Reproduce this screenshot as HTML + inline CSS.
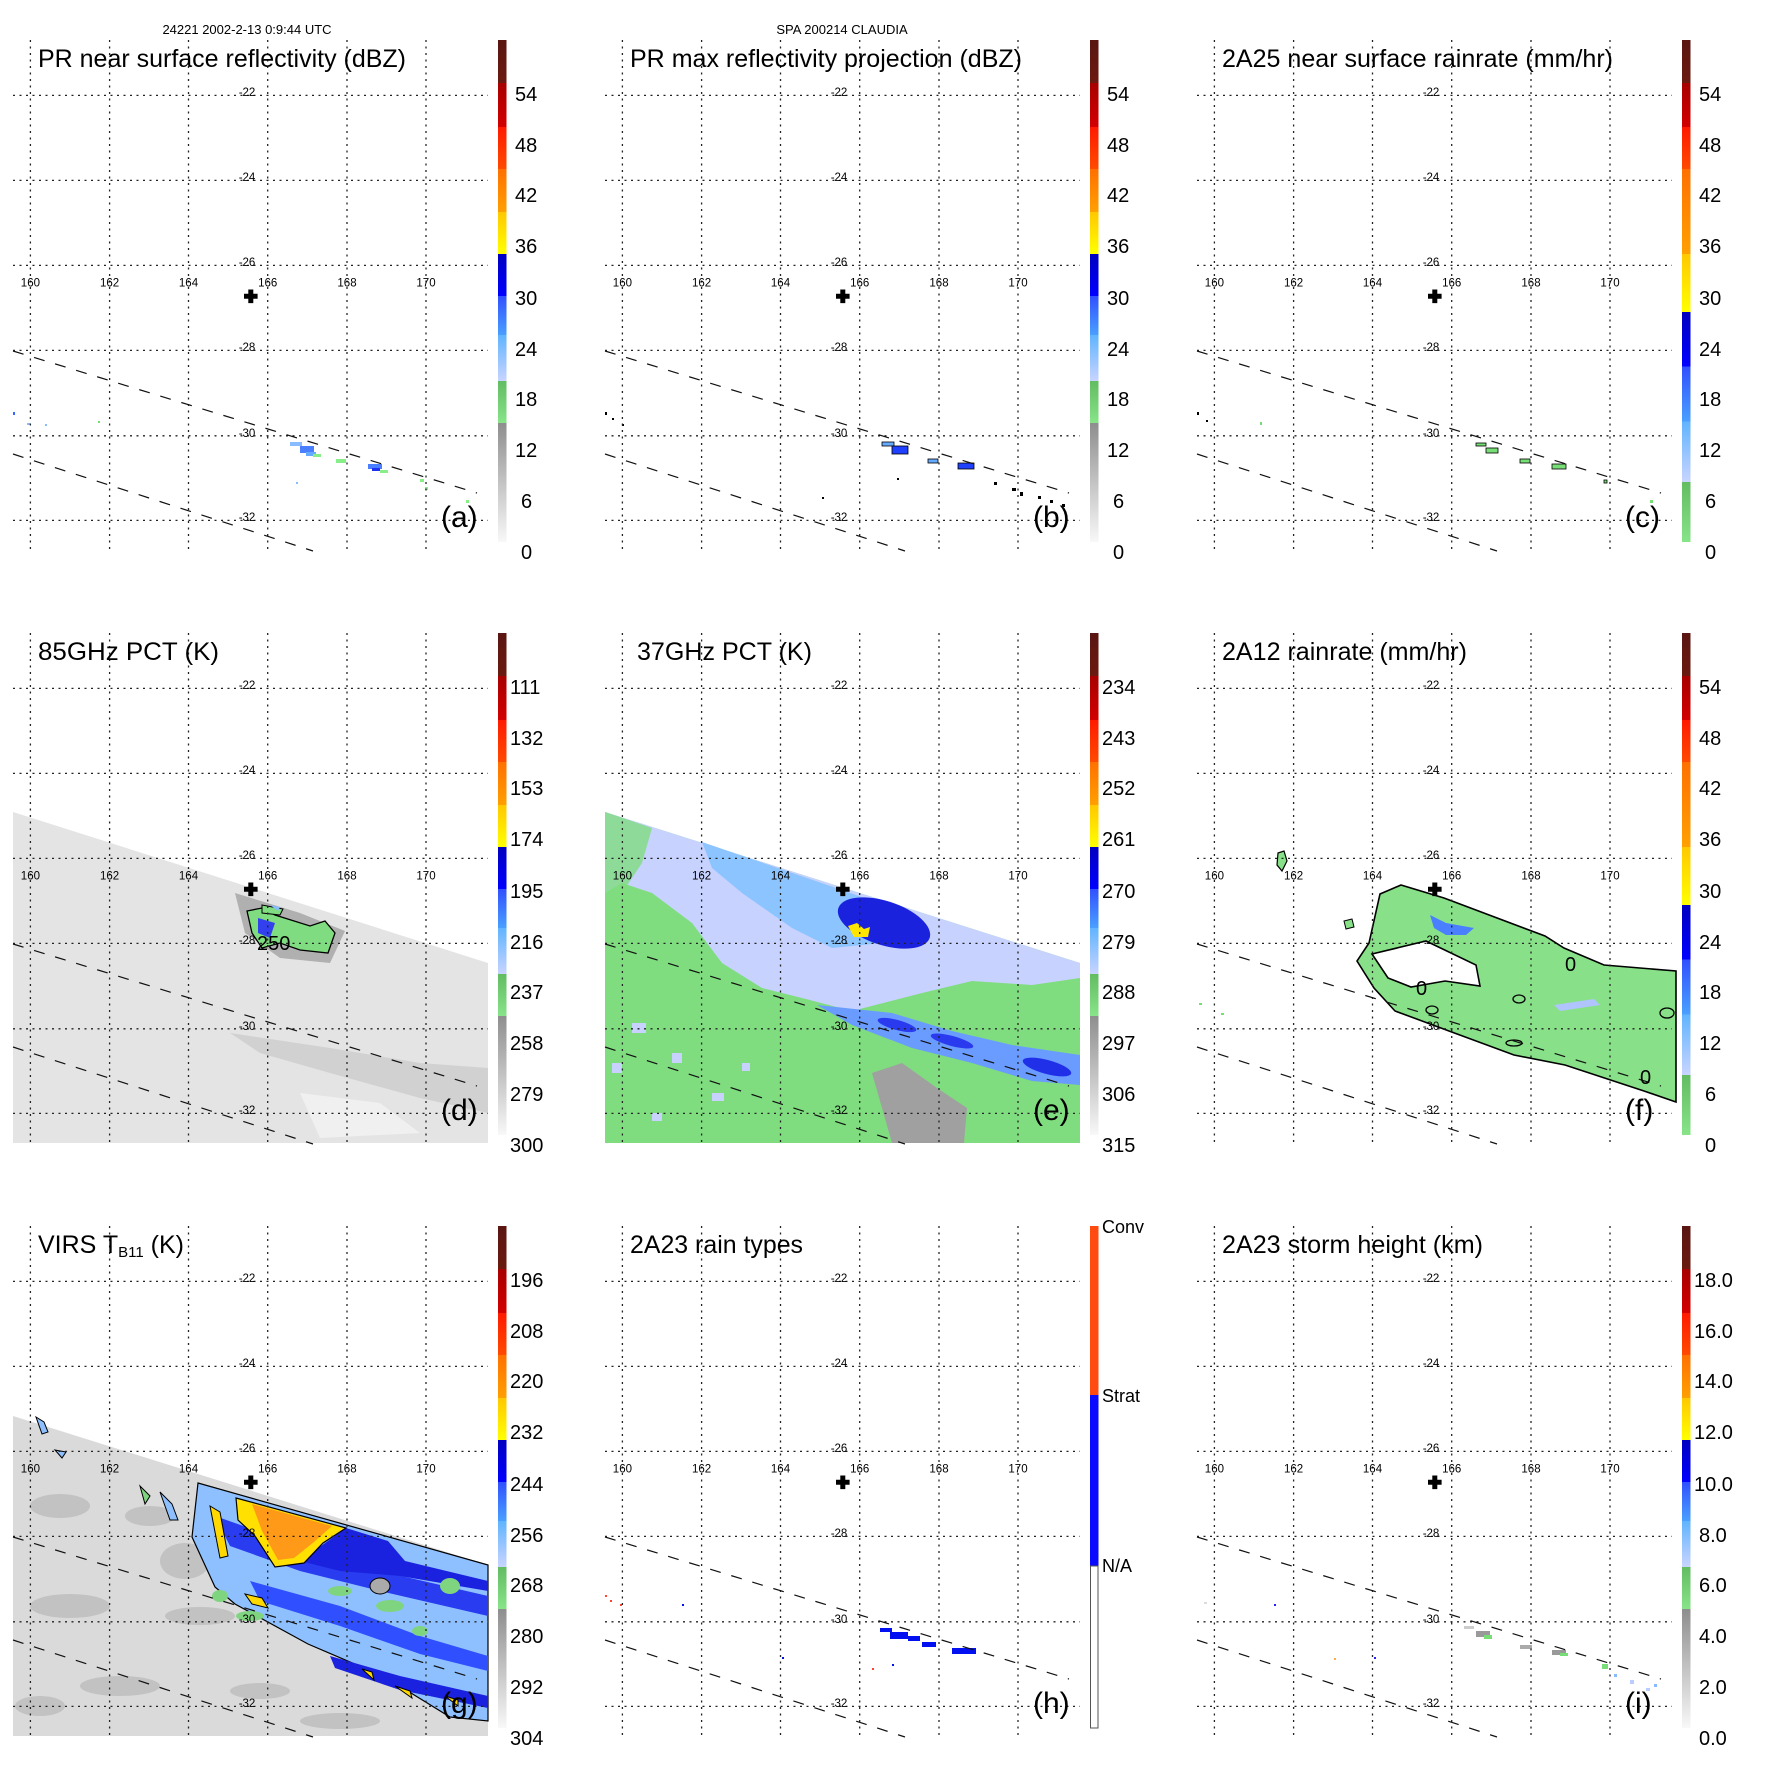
<!DOCTYPE html>
<html><head><meta charset="utf-8"><style>
html,body{margin:0;padding:0;background:#fff}
svg{display:block}
text{font-family:"Liberation Sans",Arial,sans-serif;fill:#000}
.tk{font-size:11.5px;text-anchor:middle}
.ti{font-size:25px}
.cb{font-size:20px}
.lt{font-size:30px}
</style></head><body>
<svg width="1771" height="1771" viewBox="0 0 1771 1771" xmlns="http://www.w3.org/2000/svg">
<rect width="1771" height="1771" fill="#fff"/>
<defs>
<g id="grid" stroke="#222" stroke-width="1.3" stroke-dasharray="2 4.5" fill="none">
<line x1="30.4" y1="40" x2="30.4" y2="550"/><line x1="109.6" y1="40" x2="109.6" y2="550"/><line x1="188.5" y1="40" x2="188.5" y2="550"/><line x1="267.7" y1="40" x2="267.7" y2="550"/><line x1="347" y1="40" x2="347" y2="550"/><line x1="426" y1="40" x2="426" y2="550"/>
<line x1="13" y1="95.4" x2="488" y2="95.4"/><line x1="13" y1="180.4" x2="488" y2="180.4"/><line x1="13" y1="265.4" x2="488" y2="265.4"/><line x1="13" y1="350.4" x2="488" y2="350.4"/><line x1="13" y1="435.8" x2="488" y2="435.8"/><line x1="13" y1="520.4" x2="488" y2="520.4"/>
</g>
<g id="dl" stroke="#111" stroke-width="1.2" stroke-dasharray="11 11" fill="none">
<line x1="13" y1="351" x2="477" y2="493"/><line x1="13" y1="454" x2="313" y2="551"/>
</g>
<path id="plus" d="M248.3,289.5h5v4.3h4.3v5h-4.3v4.3h-5v-4.3h-4.3v-5h4.3z" fill="#000"/>
<linearGradient id="gA" x1="0" y1="0" x2="0" y2="1">
<stop offset="0" stop-color="#5a1612"/><stop offset="0.086" stop-color="#6a1a10"/>
<stop offset="0.086" stop-color="#a80000"/><stop offset="0.173" stop-color="#d20000"/>
<stop offset="0.173" stop-color="#ff1a00"/><stop offset="0.257" stop-color="#ff4a00"/>
<stop offset="0.257" stop-color="#ff7000"/><stop offset="0.343" stop-color="#ffa000"/>
<stop offset="0.343" stop-color="#ffc800"/><stop offset="0.426" stop-color="#ffff00"/>
<stop offset="0.426" stop-color="#0000c0"/><stop offset="0.51" stop-color="#0000ff"/>
<stop offset="0.51" stop-color="#3050ff"/><stop offset="0.588" stop-color="#4aa0ff"/>
<stop offset="0.588" stop-color="#60b4ff"/><stop offset="0.679" stop-color="#c8d4ff"/>
<stop offset="0.679" stop-color="#62bc62"/><stop offset="0.763" stop-color="#88e488"/>
<stop offset="0.763" stop-color="#8e8e8e"/><stop offset="1" stop-color="#f8f8f8"/>
</linearGradient>
<linearGradient id="gC" x1="0" y1="0" x2="0" y2="1">
<stop offset="0" stop-color="#5a1612"/><stop offset="0.086" stop-color="#6a1a10"/>
<stop offset="0.086" stop-color="#a80000"/><stop offset="0.173" stop-color="#d20000"/>
<stop offset="0.173" stop-color="#ff1a00"/><stop offset="0.257" stop-color="#ff4a00"/>
<stop offset="0.257" stop-color="#ff7000"/><stop offset="0.426" stop-color="#ffa000"/>
<stop offset="0.426" stop-color="#ffc800"/><stop offset="0.542" stop-color="#ffff00"/>
<stop offset="0.542" stop-color="#0000c0"/><stop offset="0.65" stop-color="#0000ff"/>
<stop offset="0.65" stop-color="#3050ff"/><stop offset="0.76" stop-color="#4aa0ff"/>
<stop offset="0.76" stop-color="#60b4ff"/><stop offset="0.88" stop-color="#c8d4ff"/>
<stop offset="0.88" stop-color="#62bc62"/><stop offset="1" stop-color="#88e488"/>
</linearGradient>
<g id="cbA"><rect x="498" y="40" width="8.5" height="502" fill="url(#gA)"/></g>
<g id="cbC"><rect x="498" y="40" width="8.5" height="502" fill="url(#gC)"/></g>
<polygon id="swath" points="13,219 488,370 488,550 13,550"/>
</defs>

<text x="247" y="34" font-size="13" text-anchor="middle">24221 2002-2-13 0:9:44 UTC</text>
<text x="842" y="34" font-size="13" text-anchor="middle">SPA 200214 CLAUDIA</text>

<!-- Panel a -->
<g transform="translate(0,0)">
<g>
<rect x="290" y="442" width="12" height="4" fill="#8bf"/><rect x="300" y="446" width="14" height="7" fill="#4a7fff"/><rect x="306" y="452" width="10" height="4" fill="#6af"/><rect x="313" y="454" width="8" height="3" fill="#8e8"/><rect x="336" y="459" width="10" height="4" fill="#8e8"/><rect x="368" y="464" width="14" height="5" fill="#4a7fff"/><rect x="372" y="468" width="8" height="3" fill="#2030f0"/><rect x="380" y="470" width="8" height="3" fill="#8e8"/><rect x="420" y="479" width="4" height="3" fill="#8e8"/><rect x="425" y="487" width="3" height="3" fill="#8e8"/><rect x="466" y="500" width="3" height="3" fill="#8e8"/><rect x="13" y="412" width="2" height="3" fill="#36f"/><rect x="27" y="423" width="3" height="2" fill="#8bf"/><rect x="45" y="424" width="2" height="2" fill="#8bf"/><rect x="98" y="421" width="2" height="2" fill="#7d7"/><rect x="296" y="482" width="2" height="2" fill="#8bf"/>
</g>
<use href="#grid"/><use href="#dl"/><use href="#plus"/>
<text class="tk" x="247" y="96">-22</text><text class="tk" x="247" y="181">-24</text><text class="tk" x="247" y="266">-26</text><text class="tk" x="247" y="351">-28</text><text class="tk" x="247" y="437">-30</text><text class="tk" x="247" y="521">-32</text>
<text class="tk" x="30.4" y="286.5">160</text><text class="tk" x="109.6" y="286.5">162</text><text class="tk" x="188.5" y="286.5">164</text><text class="tk" x="267.7" y="286.5">166</text><text class="tk" x="347" y="286.5">168</text><text class="tk" x="426" y="286.5">170</text>
<text class="ti" x="38" y="67" textLength="368" lengthAdjust="spacingAndGlyphs">PR near surface reflectivity (dBZ)</text>
<use href="#cbA"/>
<text class="cb" x="515" y="101">54</text><text class="cb" x="515" y="152">48</text><text class="cb" x="515" y="202">42</text><text class="cb" x="515" y="253">36</text><text class="cb" x="515" y="305">30</text><text class="cb" x="515" y="356">24</text><text class="cb" x="515" y="406">18</text><text class="cb" x="515" y="457">12</text><text class="cb" x="521" y="508">6</text><text class="cb" x="521" y="559">0</text>
<text class="lt" x="441" y="527">(a)</text>
</g>

<!-- Panel b -->
<g transform="translate(592,0)">
<g stroke="#000" stroke-width="0.8">
<rect x="290" y="442" width="12" height="4" fill="#6af"/><rect x="300" y="446" width="16" height="8" fill="#2040ff"/><rect x="336" y="459" width="10" height="4" fill="#6af"/><rect x="366" y="463" width="16" height="6" fill="#2040ff"/>
</g>
<g fill="#000">
<rect x="13" y="412" width="2" height="3"/><rect x="20" y="418" width="2" height="2"/><rect x="30" y="424" width="2" height="2"/><rect x="402" y="482" width="3" height="3"/><rect x="420" y="488" width="4" height="3"/><rect x="428" y="492" width="3" height="4"/><rect x="446" y="496" width="3" height="3"/><rect x="458" y="500" width="3" height="3"/><rect x="470" y="504" width="3" height="3"/><rect x="230" y="497" width="2" height="2"/><rect x="305" y="478" width="2" height="2"/>
</g>
<use href="#grid"/><use href="#dl"/><use href="#plus"/>
<text class="tk" x="247" y="96">-22</text><text class="tk" x="247" y="181">-24</text><text class="tk" x="247" y="266">-26</text><text class="tk" x="247" y="351">-28</text><text class="tk" x="247" y="437">-30</text><text class="tk" x="247" y="521">-32</text>
<text class="tk" x="30.4" y="286.5">160</text><text class="tk" x="109.6" y="286.5">162</text><text class="tk" x="188.5" y="286.5">164</text><text class="tk" x="267.7" y="286.5">166</text><text class="tk" x="347" y="286.5">168</text><text class="tk" x="426" y="286.5">170</text>
<text class="ti" x="38" y="67" textLength="392" lengthAdjust="spacingAndGlyphs">PR max reflectivity projection (dBZ)</text>
<use href="#cbA"/>
<text class="cb" x="515" y="101">54</text><text class="cb" x="515" y="152">48</text><text class="cb" x="515" y="202">42</text><text class="cb" x="515" y="253">36</text><text class="cb" x="515" y="305">30</text><text class="cb" x="515" y="356">24</text><text class="cb" x="515" y="406">18</text><text class="cb" x="515" y="457">12</text><text class="cb" x="521" y="508">6</text><text class="cb" x="521" y="559">0</text>
<text class="lt" x="441" y="527">(b)</text>
</g>

<!-- Panel c -->
<g transform="translate(1184,0)">
<g stroke="#000" stroke-width="0.8" fill="#7d7">
<rect x="292" y="443" width="10" height="3"/><rect x="302" y="448" width="12" height="5"/><rect x="336" y="459" width="10" height="4"/><rect x="368" y="464" width="14" height="5"/><rect x="420" y="480" width="3" height="3"/>
</g>
<g fill="#000"><rect x="13" y="412" width="2" height="3"/><rect x="22" y="420" width="2" height="2"/></g>
<g fill="#7d7"><rect x="466" y="500" width="3" height="3"/><rect x="76" y="422" width="2" height="3"/></g>
<use href="#grid"/><use href="#dl"/><use href="#plus"/>
<text class="tk" x="247" y="96">-22</text><text class="tk" x="247" y="181">-24</text><text class="tk" x="247" y="266">-26</text><text class="tk" x="247" y="351">-28</text><text class="tk" x="247" y="437">-30</text><text class="tk" x="247" y="521">-32</text>
<text class="tk" x="30.4" y="286.5">160</text><text class="tk" x="109.6" y="286.5">162</text><text class="tk" x="188.5" y="286.5">164</text><text class="tk" x="267.7" y="286.5">166</text><text class="tk" x="347" y="286.5">168</text><text class="tk" x="426" y="286.5">170</text>
<text class="ti" x="38" y="67" textLength="391" lengthAdjust="spacingAndGlyphs">2A25 near surface rainrate (mm/hr)</text>
<use href="#cbC"/>
<text class="cb" x="515" y="101">54</text><text class="cb" x="515" y="152">48</text><text class="cb" x="515" y="202">42</text><text class="cb" x="515" y="253">36</text><text class="cb" x="515" y="305">30</text><text class="cb" x="515" y="356">24</text><text class="cb" x="515" y="406">18</text><text class="cb" x="515" y="457">12</text><text class="cb" x="521" y="508">6</text><text class="cb" x="521" y="559">0</text>
<text class="lt" x="441" y="527">(c)</text>
</g>

<!-- Panel d -->
<g transform="translate(0,593)">
<use href="#swath" fill="#e4e4e4"/>
<polygon points="230,440 330,455 420,470 488,475 488,520 420,505 330,480 260,460" fill="#cccccc" opacity="0.8"/>
<polygon points="235,300 300,320 345,338 330,370 280,365 245,340" fill="#b0b0b0"/>
<polygon points="300,500 380,510 420,540 320,545" fill="#f0f0f0"/>
<path d="M247,318 L262,315 L275,322 L310,333 L325,328 L335,340 L328,360 L300,357 L280,350 L262,355 L252,340 Z" fill="#80dc80" stroke="#000" stroke-width="1.3"/>
<path d="M258,325 L275,330 L270,345 L258,340 Z" fill="#3340ee"/>
<path d="M262,312 L283,316 L280,322 L262,320 Z" fill="#80dc80" stroke="#000" stroke-width="1"/>
<path d="M270,312 L280,314 L278,318 Z" fill="#8bf"/>
<use href="#grid"/><use href="#dl"/><use href="#plus"/>
<text x="257" y="357" font-size="20">250</text>
<text class="tk" x="247" y="96">-22</text><text class="tk" x="247" y="181">-24</text><text class="tk" x="247" y="266">-26</text><text class="tk" x="247" y="351">-28</text><text class="tk" x="247" y="437">-30</text><text class="tk" x="247" y="521">-32</text>
<text class="tk" x="30.4" y="286.5">160</text><text class="tk" x="109.6" y="286.5">162</text><text class="tk" x="188.5" y="286.5">164</text><text class="tk" x="267.7" y="286.5">166</text><text class="tk" x="347" y="286.5">168</text><text class="tk" x="426" y="286.5">170</text>
<text class="ti" x="38" y="67" textLength="181" lengthAdjust="spacingAndGlyphs">85GHz PCT (K)</text>
<use href="#cbA"/>
<text class="cb" x="510" y="101">111</text><text class="cb" x="510" y="152">132</text><text class="cb" x="510" y="202">153</text><text class="cb" x="510" y="253">174</text><text class="cb" x="510" y="305">195</text><text class="cb" x="510" y="356">216</text><text class="cb" x="510" y="406">237</text><text class="cb" x="510" y="457">258</text><text class="cb" x="510" y="508">279</text><text class="cb" x="510" y="559">300</text>
<text class="lt" x="441" y="527">(d)</text>
</g>

<!-- Panel e -->
<g transform="translate(592,593)">
<use href="#swath" fill="#7fdc7f"/>
<polygon points="13,219 488,370 488,385 440,392 380,388 330,400 260,418 210,405 170,395 130,370 100,330 60,300 30,290 13,300" fill="#c8d2ff"/>
<polygon points="13,219 60,235 50,270 30,300 13,310" fill="#7fdc7f" opacity="0.8"/>
<polygon points="110,249 250,297 300,315 290,350 240,355 200,335 150,300 120,275" fill="#8cc4ff"/>
<polygon points="60,330 100,360 90,390 60,400 40,370" fill="#7fdc7f" opacity="0.7"/>
<ellipse cx="292" cy="330" rx="48" ry="22" fill="#1a22dd" transform="rotate(18 292 330)"/>
<polygon points="256,333 265,330 272,336 278,334 276,344 262,344" fill="#ffe600"/>
<polygon points="225,412 300,420 360,438 420,452 488,462 488,492 440,488 380,470 320,455 260,432" fill="#6a9cff"/>
<ellipse cx="305" cy="432" rx="20" ry="5" fill="#2a3aee" transform="rotate(15 305 432)"/>
<ellipse cx="360" cy="448" rx="22" ry="5" fill="#2a3aee" transform="rotate(15 360 448)"/>
<ellipse cx="455" cy="474" rx="25" ry="7" fill="#2030e8" transform="rotate(15 455 474)"/>
<polygon points="280,480 310,470 345,495 375,515 372,550 300,550 290,515" fill="#a0a0a0"/>
<g fill="#c8d2ff"><rect x="40" y="430" width="14" height="10"/><rect x="80" y="460" width="10" height="10"/><rect x="120" y="500" width="12" height="8"/><rect x="60" y="520" width="10" height="8"/><rect x="150" y="470" width="8" height="8"/><rect x="20" y="470" width="10" height="10"/></g>
<use href="#grid"/><use href="#dl"/><use href="#plus"/>
<text class="tk" x="247" y="96">-22</text><text class="tk" x="247" y="181">-24</text><text class="tk" x="247" y="266">-26</text><text class="tk" x="247" y="351">-28</text><text class="tk" x="247" y="437">-30</text><text class="tk" x="247" y="521">-32</text>
<text class="tk" x="30.4" y="286.5">160</text><text class="tk" x="109.6" y="286.5">162</text><text class="tk" x="188.5" y="286.5">164</text><text class="tk" x="267.7" y="286.5">166</text><text class="tk" x="347" y="286.5">168</text><text class="tk" x="426" y="286.5">170</text>
<text class="ti" x="45" y="67" textLength="175" lengthAdjust="spacingAndGlyphs">37GHz PCT (K)</text>
<use href="#cbA"/>
<text class="cb" x="510" y="101">234</text><text class="cb" x="510" y="152">243</text><text class="cb" x="510" y="202">252</text><text class="cb" x="510" y="253">261</text><text class="cb" x="510" y="305">270</text><text class="cb" x="510" y="356">279</text><text class="cb" x="510" y="406">288</text><text class="cb" x="510" y="457">297</text><text class="cb" x="510" y="508">306</text><text class="cb" x="510" y="559">315</text>
<text class="lt" x="441" y="527">(e)</text>
</g>

<!-- Panel f -->
<g transform="translate(1184,593)">
<path fill-rule="evenodd" d="M217,292 L260,305 L361,343 L380,355 L420,372 L492,378 L492,509 L460,498 L381,472 L330,462 L265,438 L230,425 L211,418 L190,395 L173,368 L185,350 L196,301 Z M188,361 L242,348 L292,372 L296,393 L261,388 L227,394 L204,385 Z" fill="#88e088" stroke="#000" stroke-width="1.6"/>
<path d="M94,260 L100,258 L103,268 L98,278 L93,272 Z" fill="#88e088" stroke="#000" stroke-width="1.2"/>
<path d="M160,328 L168,326 L170,334 L162,336 Z" fill="#88e088" stroke="#000" stroke-width="1"/>
<polygon points="246,322 262,330 290,335 282,342 262,342 250,335" fill="#4a7fff"/>
<polygon points="370,412 410,406 416,412 376,418" fill="#b0c4ff"/>
<g fill="none" stroke="#000" stroke-width="1.3"><ellipse cx="335" cy="406" rx="6" ry="4"/><ellipse cx="248" cy="417" rx="6" ry="4"/><ellipse cx="330" cy="450" rx="8" ry="3"/><ellipse cx="483" cy="420" rx="7" ry="5"/></g>
<g fill="#7d7"><rect x="15" y="410" width="3" height="2"/><rect x="37" y="420" width="3" height="2"/></g>
<use href="#grid"/><use href="#dl"/><use href="#plus"/>
<text x="381" y="378" font-size="20">0</text><text x="232" y="402" font-size="20">0</text><text x="456" y="491" font-size="20">0</text>
<text class="tk" x="247" y="96">-22</text><text class="tk" x="247" y="181">-24</text><text class="tk" x="247" y="266">-26</text><text class="tk" x="247" y="351">-28</text><text class="tk" x="247" y="437">-30</text><text class="tk" x="247" y="521">-32</text>
<text class="tk" x="30.4" y="286.5">160</text><text class="tk" x="109.6" y="286.5">162</text><text class="tk" x="188.5" y="286.5">164</text><text class="tk" x="267.7" y="286.5">166</text><text class="tk" x="347" y="286.5">168</text><text class="tk" x="426" y="286.5">170</text>
<text class="ti" x="38" y="67" textLength="245" lengthAdjust="spacingAndGlyphs">2A12 rainrate (mm/hr)</text>
<use href="#cbC"/>
<text class="cb" x="515" y="101">54</text><text class="cb" x="515" y="152">48</text><text class="cb" x="515" y="202">42</text><text class="cb" x="515" y="253">36</text><text class="cb" x="515" y="305">30</text><text class="cb" x="515" y="356">24</text><text class="cb" x="515" y="406">18</text><text class="cb" x="515" y="457">12</text><text class="cb" x="521" y="508">6</text><text class="cb" x="521" y="559">0</text>
<text class="lt" x="441" y="527">(f)</text>
</g>

<!-- Panel g -->
<g transform="translate(0,1186)">
<polygon points="13,230 488,379 488,550 13,550" fill="#dadada"/>
<g fill="#c2c2c2"><ellipse cx="60" cy="320" rx="30" ry="12"/><ellipse cx="150" cy="330" rx="25" ry="10"/><ellipse cx="70" cy="420" rx="40" ry="12"/><ellipse cx="200" cy="430" rx="35" ry="9"/><ellipse cx="120" cy="500" rx="40" ry="10"/><ellipse cx="40" cy="520" rx="25" ry="10"/><ellipse cx="260" cy="505" rx="30" ry="8"/><ellipse cx="340" cy="535" rx="40" ry="8"/><ellipse cx="185" cy="375" rx="25" ry="18"/></g>
<path d="M198,297 L488,379 L488,535 L450,531 L385,491 L308,458 L235,418 L215,401 L192,351 Z" fill="#8ec0ff" stroke="#000" stroke-width="1.2"/>
<polygon points="215,330 300,360 380,385 488,410 488,430 380,405 300,385 230,360" fill="#2a3cf0"/>
<polygon points="250,395 340,420 420,450 488,470 488,485 420,468 340,440 260,415" fill="#3050ff"/>
<polygon points="330,470 400,490 488,510 488,522 400,504 335,482" fill="#1a22e0"/>
<polygon points="300,375 346,342 388,355 405,375 488,395 488,405 400,390 340,385" fill="#1a22e0"/>
<g fill="#7fd47f"><ellipse cx="340" cy="405" rx="12" ry="5"/><ellipse cx="390" cy="420" rx="14" ry="6"/><ellipse cx="450" cy="400" rx="10" ry="8"/><ellipse cx="220" cy="410" rx="8" ry="6"/><ellipse cx="250" cy="430" rx="14" ry="5"/><ellipse cx="420" cy="445" rx="8" ry="5"/></g>
<g fill="#aaa" stroke="#000" stroke-width="1"><ellipse cx="380" cy="400" rx="10" ry="8"/></g>
<path d="M236,312 L346,342 L323,357 L304,377 L275,381 L255,350 L238,334 Z" fill="#ffe000" stroke="#000" stroke-width="1.2"/>
<path d="M252,318 L332,340 L314,356 L294,372 L278,374 L262,345 Z" fill="#ff9a18"/>
<path d="M210,320 L220,326 L228,370 L220,372 Z" fill="#ffd800" stroke="#000" stroke-width="1"/>
<path d="M245,408 L262,412 L268,422 L252,418 Z" fill="#ffd800" stroke="#000" stroke-width="1"/>
<path d="M362,483 L372,486 L374,494 Z" fill="#ffd800" stroke="#000" stroke-width="1"/>
<path d="M395,500 L410,505 L412,512 Z" fill="#ffd800" stroke="#000" stroke-width="1"/>
<path d="M445,510 L458,514 L458,520 Z" fill="#ffd800" stroke="#000" stroke-width="1"/>
<path d="M36,231 L44,236 L48,246 L42,248 Z" fill="#8ec0ff" stroke="#000" stroke-width="1"/>
<path d="M55,264 L66,266 L62,272 Z" fill="#8ec0ff" stroke="#000" stroke-width="1"/>
<path d="M140,300 L150,310 L145,318 Z" fill="#7fd47f" stroke="#000" stroke-width="1"/>
<path d="M160,306 L172,318 L178,334 L170,334 Z" fill="#8ec0ff" stroke="#000" stroke-width="1"/>
<use href="#grid"/><use href="#dl"/><use href="#plus"/>
<text class="tk" x="247" y="96">-22</text><text class="tk" x="247" y="181">-24</text><text class="tk" x="247" y="266">-26</text><text class="tk" x="247" y="351">-28</text><text class="tk" x="247" y="437">-30</text><text class="tk" x="247" y="521">-32</text>
<text class="tk" x="30.4" y="286.5">160</text><text class="tk" x="109.6" y="286.5">162</text><text class="tk" x="188.5" y="286.5">164</text><text class="tk" x="267.7" y="286.5">166</text><text class="tk" x="347" y="286.5">168</text><text class="tk" x="426" y="286.5">170</text>
<text class="ti" x="38" y="67">VIRS T<tspan font-size="15" dy="4">B11</tspan><tspan dy="-4"> (K)</tspan></text>
<use href="#cbA"/>
<text class="cb" x="510" y="101">196</text><text class="cb" x="510" y="152">208</text><text class="cb" x="510" y="202">220</text><text class="cb" x="510" y="253">232</text><text class="cb" x="510" y="305">244</text><text class="cb" x="510" y="356">256</text><text class="cb" x="510" y="406">268</text><text class="cb" x="510" y="457">280</text><text class="cb" x="510" y="508">292</text><text class="cb" x="510" y="559">304</text>
<text class="lt" x="441" y="527">(g)</text>
</g>

<!-- Panel h -->
<g transform="translate(592,1186)">
<g fill="#0010f0">
<rect x="288" y="442" width="12" height="4"/><rect x="298" y="446" width="18" height="7"/><rect x="316" y="450" width="12" height="5"/><rect x="330" y="456" width="14" height="5"/><rect x="360" y="462" width="24" height="6"/><rect x="300" y="478" width="2" height="2"/><rect x="90" y="418" width="2" height="2"/><rect x="190" y="471" width="2" height="2"/>
</g>
<g fill="#f43"><rect x="13" y="409" width="2" height="2"/><rect x="18" y="414" width="2" height="2"/><rect x="28" y="418" width="2" height="2"/><rect x="280" y="482" width="2" height="2"/></g>
<use href="#grid"/><use href="#dl"/><use href="#plus"/>
<text class="tk" x="247" y="96">-22</text><text class="tk" x="247" y="181">-24</text><text class="tk" x="247" y="266">-26</text><text class="tk" x="247" y="351">-28</text><text class="tk" x="247" y="437">-30</text><text class="tk" x="247" y="521">-32</text>
<text class="tk" x="30.4" y="286.5">160</text><text class="tk" x="109.6" y="286.5">162</text><text class="tk" x="188.5" y="286.5">164</text><text class="tk" x="267.7" y="286.5">166</text><text class="tk" x="347" y="286.5">168</text><text class="tk" x="426" y="286.5">170</text>
<text class="ti" x="38" y="67" textLength="173" lengthAdjust="spacingAndGlyphs">2A23 rain types</text>
<rect x="498" y="40" width="8.5" height="169" fill="#ff4a10"/>
<rect x="498" y="209" width="8.5" height="171" fill="#0a0aff"/>
<rect x="498.5" y="380" width="7.5" height="162" fill="#fff" stroke="#555" stroke-width="1"/>
<text x="510" y="47" font-size="18">Conv</text>
<text x="510" y="216" font-size="18">Strat</text>
<text x="510" y="386" font-size="18">N/A</text>
<text class="lt" x="441" y="527">(h)</text>
</g>

<!-- Panel i -->
<g transform="translate(1184,1186)">
<g>
<rect x="280" y="440" width="10" height="3" fill="#ccc"/><rect x="292" y="445" width="14" height="6" fill="#999"/><rect x="300" y="449" width="8" height="4" fill="#7d7"/><rect x="336" y="459" width="12" height="4" fill="#aaa"/><rect x="368" y="464" width="14" height="5" fill="#999"/><rect x="376" y="467" width="8" height="3" fill="#7d7"/><rect x="418" y="478" width="6" height="5" fill="#7d7"/><rect x="430" y="488" width="3" height="3" fill="#8bf"/><rect x="446" y="494" width="4" height="4" fill="#bcf"/><rect x="462" y="502" width="4" height="3" fill="#bcf"/><rect x="470" y="498" width="3" height="3" fill="#8bf"/><rect x="90" y="418" width="2" height="2" fill="#22f"/><rect x="190" y="471" width="2" height="2" fill="#22f"/><rect x="20" y="416" width="3" height="2" fill="#ddd"/><rect x="150" y="472" width="2" height="2" fill="#fa4"/>
</g>
<use href="#grid"/><use href="#dl"/><use href="#plus"/>
<text class="tk" x="247" y="96">-22</text><text class="tk" x="247" y="181">-24</text><text class="tk" x="247" y="266">-26</text><text class="tk" x="247" y="351">-28</text><text class="tk" x="247" y="437">-30</text><text class="tk" x="247" y="521">-32</text>
<text class="tk" x="30.4" y="286.5">160</text><text class="tk" x="109.6" y="286.5">162</text><text class="tk" x="188.5" y="286.5">164</text><text class="tk" x="267.7" y="286.5">166</text><text class="tk" x="347" y="286.5">168</text><text class="tk" x="426" y="286.5">170</text>
<text class="ti" x="38" y="67" textLength="261" lengthAdjust="spacingAndGlyphs">2A23 storm height (km)</text>
<use href="#cbA"/>
<text class="cb" x="510" y="101">18.0</text><text class="cb" x="510" y="152">16.0</text><text class="cb" x="510" y="202">14.0</text><text class="cb" x="510" y="253">12.0</text><text class="cb" x="510" y="305">10.0</text><text class="cb" x="515" y="356">8.0</text><text class="cb" x="515" y="406">6.0</text><text class="cb" x="515" y="457">4.0</text><text class="cb" x="515" y="508">2.0</text><text class="cb" x="515" y="559">0.0</text>
<text class="lt" x="441" y="527">(i)</text>
</g>
</svg>
</body></html>
